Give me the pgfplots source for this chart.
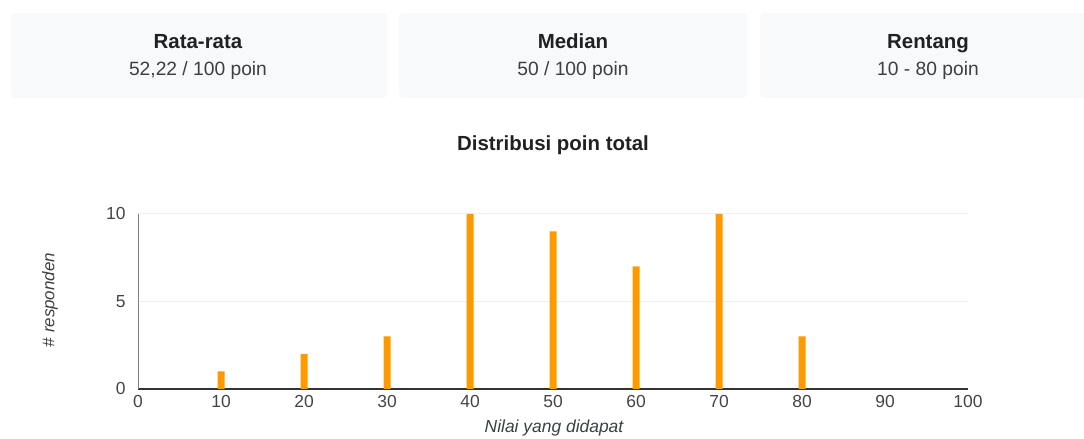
\documentclass[border=0pt]{standalone}
\usepackage{fontspec}
\setmainfont{Liberation Sans}
\usepackage{pgfplots}
\pgfplotsset{compat=1.18}
\definecolor{barorange}{HTML}{FF9900}
\definecolor{boxbg}{HTML}{F8F9FA}
\definecolor{titletext}{HTML}{202124}
\definecolor{valtext}{HTML}{3C4043}
\definecolor{ticktext}{HTML}{444444}
\definecolor{gridc}{HTML}{EFEFEF}
\definecolor{axisc}{HTML}{333333}
\begin{document}
\begin{tikzpicture}[x=1bp,y=1bp]
\useasboundingbox (0,0) rectangle (1084,439);
% summary boxes
\fill[boxbg, rounded corners=4bp] (11,341) rectangle (387,426);
\fill[boxbg, rounded corners=4bp] (399,341) rectangle (747,426);
\fill[boxbg, rounded corners=4bp] (760,341) rectangle (1090,426);
\node[anchor=base, text=titletext, font=\bfseries\fontsize{20.5}{22}\selectfont] at (198,390) {Rata-rata};
\node[anchor=base, text=valtext, font=\fontsize{19.3}{22}\selectfont] at (198,363) {52,22 / 100 poin};
\node[anchor=base, text=titletext, font=\bfseries\fontsize{20.5}{22}\selectfont] at (573,390) {Median};
\node[anchor=base, text=valtext, font=\fontsize{19.3}{22}\selectfont] at (573,363) {50 / 100 poin};
\node[anchor=base, text=titletext, font=\bfseries\fontsize{20.5}{22}\selectfont] at (928,390) {Rentang};
\node[anchor=base, text=valtext, font=\fontsize{19.3}{22}\selectfont] at (928,363) {10 - 80 poin};
% chart title
\node[anchor=base, text=titletext, font=\bfseries\fontsize{20.5}{22}\selectfont] at (553,288) {Distribusi poin total};
% axis labels
\node[anchor=center, text=valtext, font=\itshape\fontsize{17.5}{20}\selectfont] at (554,11) {Nilai yang didapat};
\node[anchor=center, rotate=90, text=valtext, font=\itshape\fontsize{17}{20}\selectfont] at (50,139) {\# responden};
\begin{axis}[
  at={(138bp,50bp)}, anchor=south west,
  scale only axis, width=830bp, height=175bp,
  xmin=0, xmax=100, ymin=0, ymax=10,
  xtick={0,10,...,100}, ytick={0,5,10},
  axis x line*=bottom, axis y line*=left,
  x axis line style={axisc, line width=1.2bp, -},
  y axis line style={gray, line width=1bp, -},
  major tick length=0pt,
  ymajorgrids, grid style={gridc, line width=1bp},
  /pgf/number format/assume math mode=true,
  tick label style={text=ticktext, font=\fontsize{17.5}{20}\selectfont},
  xticklabel style={yshift=-3bp},
  yticklabel style={xshift=-9bp},
  ybar, bar width=7bp,
  clip=false,
]
\addplot[fill=barorange, draw=none] coordinates {
(10,1) (20,2) (30,3) (40,10) (50,9) (60,7) (70,10) (80,3)
};
\end{axis}
\end{tikzpicture}
\end{document}
